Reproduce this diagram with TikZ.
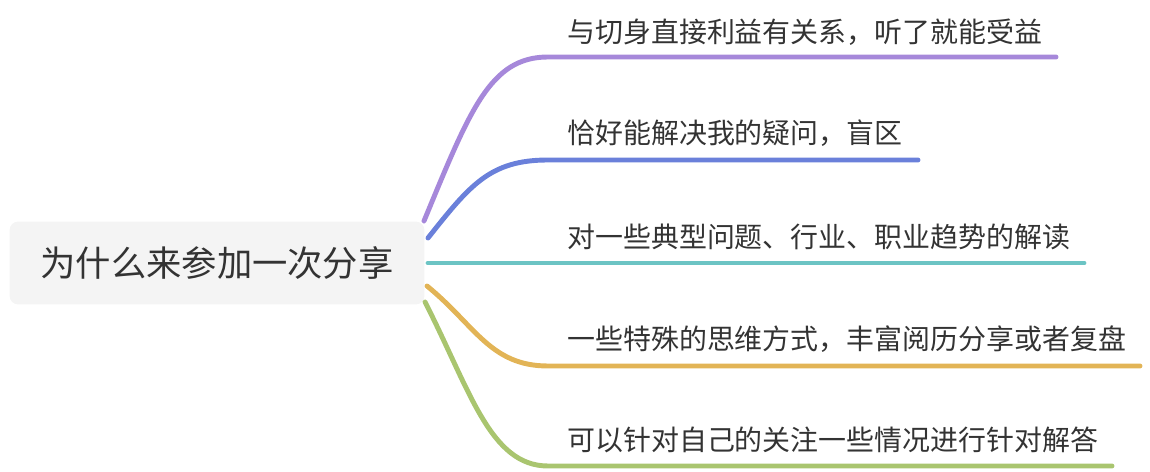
\documentclass[tikz,border=0pt]{standalone}
\usepackage{fontspec}
\setmainfont{Noto Sans CJK SC}
\usepackage{xcolor}
\usetikzlibrary{positioning}

\definecolor{rootgray}{HTML}{F4F4F4}
\definecolor{textgray}{HTML}{333333}
\definecolor{brpurple}{HTML}{A688DA}
\definecolor{brblue}{HTML}{6A80DA}
\definecolor{brteal}{HTML}{6CC4C4}
\definecolor{brorange}{HTML}{E2B456}
\definecolor{brgreen}{HTML}{A9C56F}

\begin{document}
\begin{tikzpicture}[
    x=0.02cm, y=-0.02cm,
    root/.style={rectangle, rounded corners=5pt, fill=rootgray, minimum width=8.3cm, minimum height=1.66cm, text=textgray, font=\fontsize{20.1}{24}\selectfont},
    leaf/.style={anchor=west, inner sep=0pt, text=textgray, font=\fontsize{15.9}{19}\selectfont},
    branch/.style={line width=2.8pt, line cap=round}
]
\useasboundingbox (0,0) rectangle (1150,472);

% Central topic
\node[root] (root) at (217,263) {为什么来参加一次分享};

% Branch points
\coordinate (s1) at (424,221);
\coordinate (s2) at (428,238);
\coordinate (s3) at (428,263);
\coordinate (s4) at (427,286);
\coordinate (s5) at (425,302);

\coordinate (m1) at (548,57);
\coordinate (m2) at (548,160);
\coordinate (m3) at (548,263);
\coordinate (m4) at (548,366);
\coordinate (m5) at (548,466);

\coordinate (e1) at (1056,57);
\coordinate (e2) at (918,160);
\coordinate (e3) at (1084,263);
\coordinate (e4) at (1140,366);
\coordinate (e5) at (1112,466);

% Topics
\node[leaf] (t1) at (567,32) {与切身直接利益有关系，听了就能受益};
\node[leaf] (t2) at (567,133) {恰好能解决我的疑问，盲区};
\node[leaf] (t3) at (567,237) {对一些典型问题、行业、职业趋势的解读};
\node[leaf] (t4) at (567,339) {一些特殊的思维方式，丰富阅历分享或者复盘};
\node[leaf] (t5) at (567,440) {可以针对自己的关注一些情况进行针对解答};

% Connections
\draw[branch, brpurple] (s1) .. controls (470,110) and (490,57) .. (m1) -- (e1);
\draw[branch, brblue] (s2) .. controls (470,185) and (490,160) .. (m2) -- (e2);
\draw[branch, brteal] (s3) -- (m3) -- (e3);
\draw[branch, brorange] (s4) .. controls (475,325) and (490,366) .. (m4) -- (e4);
\draw[branch, brgreen] (s5) .. controls (470,390) and (490,466) .. (m5) -- (e5);

\end{tikzpicture}
\end{document}
